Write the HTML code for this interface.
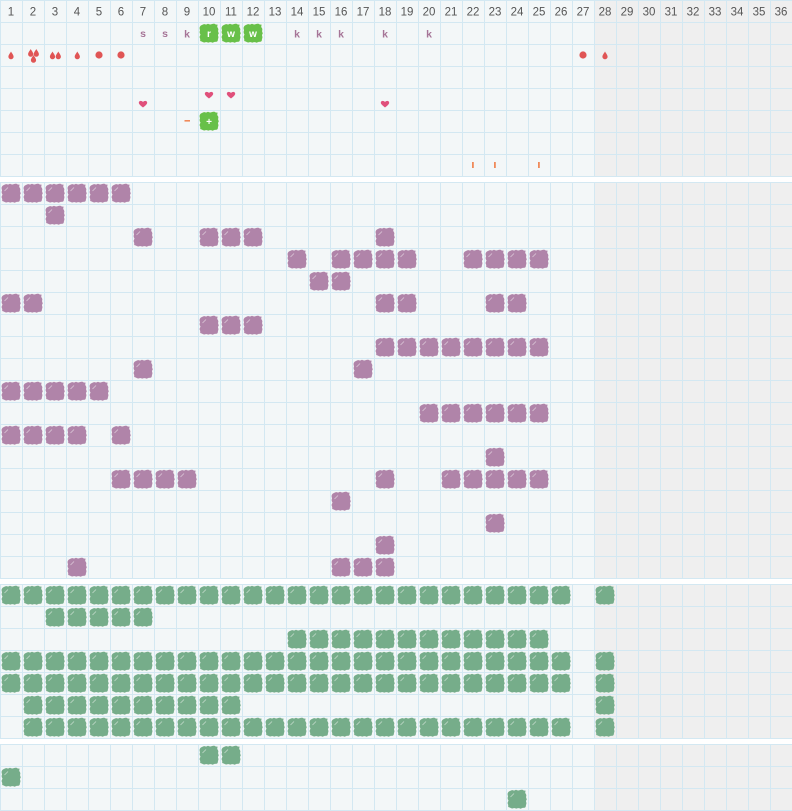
<!DOCTYPE html>
<html><head><meta charset="utf-8"><style>
html,body{margin:0;padding:0;background:#fff;}
svg{display:block;}
text{font-family:"Liberation Sans",sans-serif;}
</style></head><body>
<svg width="792" height="811" viewBox="0 0 792 811" xmlns="http://www.w3.org/2000/svg">
<defs>
<g id="blobshape">
<path d="M4,3 Q6,1.5 8,2.6 L10,1.8 Q12,3 14,2 L16.2,1.6 Q18,3 19.6,2.5 L19.2,5 Q21,7 20,9 L20.8,11.5 Q19.4,13 20.5,15 L19.8,18 Q20,20 17,19.8 L14.5,20.8 Q12.5,19.5 10.5,20.6 L8,20 Q6,21.2 4,19.6 L2.2,19 Q2.6,17 1.5,15 L2.5,12.5 Q1,10.5 2,8.5 L1.5,6 Q2,3.6 4,3Z"/>
</g>
<pattern id="g1" patternUnits="userSpaceOnUse" x="0" y="0" width="22" height="22"><path d="M0 0.5H22M0.5 0V22" stroke="#d3e8f2" stroke-width="1" fill="none"/></pattern>
<pattern id="g2" patternUnits="userSpaceOnUse" x="0" y="182" width="22" height="22"><path d="M0 0.5H22M0.5 0V22" stroke="#d3e8f2" stroke-width="1" fill="none"/></pattern>
<pattern id="g3" patternUnits="userSpaceOnUse" x="0" y="584" width="22" height="22"><path d="M0 0.5H22M0.5 0V22" stroke="#d3e8f2" stroke-width="1" fill="none"/></pattern>
<pattern id="g4" patternUnits="userSpaceOnUse" x="0" y="744" width="22" height="22"><path d="M0 0.5H22M0.5 0V22" stroke="#d3e8f2" stroke-width="1" fill="none"/></pattern>
<pattern id="pp" patternUnits="userSpaceOnUse" x="0" y="182" width="22" height="22"><use href="#blobshape" fill="#b084a9"/><path d="M4.5,9 L8,5.5" stroke="#fff" stroke-opacity="0.55" stroke-width="0.8"/></pattern>
<pattern id="gp3" patternUnits="userSpaceOnUse" x="0" y="584" width="22" height="22"><use href="#blobshape" fill="#76ad8a"/><path d="M4.5,9 L8,5.5" stroke="#fff" stroke-opacity="0.55" stroke-width="0.8"/></pattern>
<pattern id="gp4" patternUnits="userSpaceOnUse" x="0" y="744" width="22" height="22"><use href="#blobshape" fill="#76ad8a"/><path d="M4.5,9 L8,5.5" stroke="#fff" stroke-opacity="0.55" stroke-width="0.8"/></pattern>
<path id="drop" d="M0,-4 C0.8,-2.5 2.6,-0.5 2.6,1.2 A2.6,2.6 0 0 1 -2.6,1.2 C-2.6,-0.5 -0.8,-2.5 0,-4Z" fill="#e05555"/>
<path id="heart" d="M0,3.5 C-1,2.5 -4.2,0.5 -4.2,-1.3 C-4.2,-3.2 -1.8,-4 0,-2.1 C1.8,-4 4.2,-3.2 4.2,-1.3 C4.2,0.5 1,2.5 0,3.5Z" fill="#e0507b"/>
</defs>

<rect x="0" y="0" width="792" height="811" fill="#fff"/>
<rect x="0" y="0" width="594" height="177" fill="#f3f7f8"/>
<rect x="594" y="0" width="198" height="177" fill="#efefef"/>
<rect x="0" y="182" width="594" height="397" fill="#f3f7f8"/>
<rect x="594" y="182" width="198" height="397" fill="#efefef"/>
<rect x="0" y="584" width="594" height="155" fill="#f3f7f8"/>
<rect x="594" y="584" width="198" height="155" fill="#efefef"/>
<rect x="0" y="744" width="594" height="67" fill="#f3f7f8"/>
<rect x="594" y="744" width="198" height="67" fill="#efefef"/>
<rect x="0" y="0" width="792" height="177" fill="url(#g1)"/>
<rect x="0" y="182" width="792" height="397" fill="url(#g2)"/>
<rect x="0" y="584" width="792" height="155" fill="url(#g3)"/>
<rect x="0" y="744" width="792" height="67" fill="url(#g4)"/>

<g font-size="11.5" fill="#555" text-anchor="middle">
<text x="11" y="15.5">1</text><text x="33" y="15.5">2</text><text x="55" y="15.5">3</text><text x="77" y="15.5">4</text><text x="99" y="15.5">5</text><text x="121" y="15.5">6</text><text x="143" y="15.5">7</text><text x="165" y="15.5">8</text><text x="187" y="15.5">9</text><text x="209" y="15.5">10</text><text x="231" y="15.5">11</text><text x="253" y="15.5">12</text><text x="275" y="15.5">13</text><text x="297" y="15.5">14</text><text x="319" y="15.5">15</text><text x="341" y="15.5">16</text><text x="363" y="15.5">17</text><text x="385" y="15.5">18</text><text x="407" y="15.5">19</text><text x="429" y="15.5">20</text><text x="451" y="15.5">21</text><text x="473" y="15.5">22</text><text x="495" y="15.5">23</text><text x="517" y="15.5">24</text><text x="539" y="15.5">25</text><text x="561" y="15.5">26</text><text x="583" y="15.5">27</text><text x="605" y="15.5">28</text><text x="627" y="15.5">29</text><text x="649" y="15.5">30</text><text x="671" y="15.5">31</text><text x="693" y="15.5">32</text><text x="715" y="15.5">33</text><text x="737" y="15.5">34</text><text x="759" y="15.5">35</text><text x="781" y="15.5">36</text>
</g>

<g font-size="10.5" font-weight="bold" fill="#a67597" text-anchor="middle">
<text x="143" y="37">s</text><text x="165" y="37">s</text><text x="187" y="37.5">k</text>
<text x="297" y="37.5">k</text><text x="319" y="37.5">k</text><text x="341" y="37.5">k</text><text x="385" y="37.5">k</text><text x="429" y="37.5">k</text>
</g>
<g fill="#68c049">
<use href="#blobshape" x="198" y="22"/>
<use href="#blobshape" x="220" y="22"/>
<use href="#blobshape" x="242" y="22"/>
<use href="#blobshape" x="198" y="110"/>
</g>
<g font-size="10" font-weight="bold" fill="#fff" text-anchor="middle">
<text x="209" y="37">r</text><text x="231" y="37">w</text><text x="253" y="37">w</text>
<text x="209" y="125">+</text>
</g>

<use href="#drop" x="11" y="55.5"/>
<use href="#drop" x="30.7" y="53"/>
<use href="#drop" x="36.3" y="53"/>
<use href="#drop" x="33.5" y="59"/>
<use href="#drop" x="52.5" y="55.5"/>
<use href="#drop" x="58.3" y="55.5"/>
<use href="#drop" x="77.3" y="55.5"/>
<circle cx="99" cy="55" r="3.6" fill="#e05555"/>
<circle cx="121" cy="55" r="3.6" fill="#e05555"/>
<circle cx="583" cy="55" r="3.6" fill="#e05555"/>
<use href="#drop" x="605" y="55.5"/>

<use href="#heart" x="209" y="95"/>
<use href="#heart" x="231" y="95"/>
<use href="#heart" x="143" y="104"/>
<use href="#heart" x="385" y="104"/>

<rect x="184.5" y="120" width="5.5" height="1.6" fill="#f08a5a"/>
<rect x="472" y="162" width="1.8" height="6" fill="#f08a5a"/>
<rect x="494" y="162" width="1.8" height="6" fill="#f08a5a"/>
<rect x="538" y="162" width="1.8" height="6" fill="#f08a5a"/>

<g fill="url(#pp)">
<rect x="0" y="182" width="132" height="22"/>
<rect x="44" y="204" width="22" height="22"/>
<rect x="132" y="226" width="22" height="22"/><rect x="198" y="226" width="66" height="22"/><rect x="374" y="226" width="22" height="22"/>
<rect x="286" y="248" width="22" height="22"/><rect x="330" y="248" width="88" height="22"/><rect x="462" y="248" width="88" height="22"/>
<rect x="308" y="270" width="44" height="22"/>
<rect x="0" y="292" width="44" height="22"/><rect x="374" y="292" width="44" height="22"/><rect x="484" y="292" width="44" height="22"/>
<rect x="198" y="314" width="66" height="22"/>
<rect x="374" y="336" width="176" height="22"/>
<rect x="132" y="358" width="22" height="22"/><rect x="352" y="358" width="22" height="22"/>
<rect x="0" y="380" width="110" height="22"/>
<rect x="418" y="402" width="132" height="22"/>
<rect x="0" y="424" width="88" height="22"/><rect x="110" y="424" width="22" height="22"/>
<rect x="484" y="446" width="22" height="22"/>
<rect x="110" y="468" width="88" height="22"/><rect x="374" y="468" width="22" height="22"/><rect x="440" y="468" width="110" height="22"/>
<rect x="330" y="490" width="22" height="22"/>
<rect x="484" y="512" width="22" height="22"/>
<rect x="374" y="534" width="22" height="22"/>
<rect x="66" y="556" width="22" height="22"/><rect x="330" y="556" width="66" height="22"/>
</g>

<g fill="url(#gp3)">
<rect x="0" y="584" width="572" height="22"/><rect x="594" y="584" width="22" height="22"/>
<rect x="44" y="606" width="110" height="22"/>
<rect x="286" y="628" width="264" height="22"/>
<rect x="0" y="650" width="572" height="22"/><rect x="594" y="650" width="22" height="22"/>
<rect x="0" y="672" width="572" height="22"/><rect x="594" y="672" width="22" height="22"/>
<rect x="22" y="694" width="220" height="22"/><rect x="594" y="694" width="22" height="22"/>
<rect x="22" y="716" width="550" height="22"/><rect x="594" y="716" width="22" height="22"/>
</g>
<g fill="url(#gp4)">
<rect x="198" y="744" width="44" height="22"/>
<rect x="0" y="766" width="22" height="22"/>
<rect x="506" y="788" width="22" height="22"/>
</g>
</svg>
</body></html>
